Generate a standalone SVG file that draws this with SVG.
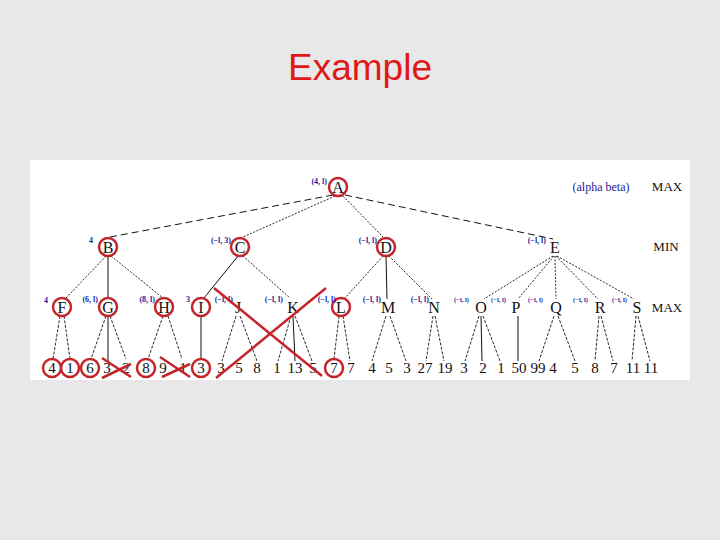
<svg xmlns="http://www.w3.org/2000/svg" width="720" height="540" viewBox="0 0 720 540">
<style>
.title{font-family:"Liberation Sans","Open Sans",sans-serif;font-size:37px;fill:#e01818;text-anchor:middle}
.n{font-family:"Liberation Serif","DejaVu Serif",serif;font-size:16px;fill:#111;text-anchor:middle}
.lf{font-family:"Liberation Serif","DejaVu Serif",serif;font-size:15px;fill:#111;text-anchor:middle}
.ab{font-family:"Liberation Serif","DejaVu Serif",serif;font-size:8px;font-weight:bold;fill:#1c1c9c;text-anchor:end}
.abs{font-family:"Liberation Serif","DejaVu Serif",serif;font-size:6.5px;font-weight:bold;fill:#1c1c9c;text-anchor:end}
.side{font-family:"Liberation Serif","DejaVu Serif",serif;font-size:13px;fill:#111;text-anchor:middle}
.leg{font-family:"Liberation Serif","DejaVu Serif",serif;font-size:12px;fill:#1c1c9c;text-anchor:middle}
.rc{fill:none;stroke:#c3252b;stroke-width:2.5}
.rx{stroke:#c3252b;stroke-width:2.5;fill:none}
.dash{stroke:#111;stroke-width:1;stroke-dasharray:7 4;fill:none}
.dot{stroke:#111;stroke-width:0.9;stroke-dasharray:2 1.5;fill:none}
.thin{stroke:#111;stroke-width:0.9;stroke-dasharray:3 1.5;fill:none}
.sol{stroke:#111;stroke-width:1;fill:none}
</style>
<rect x="0" y="0" width="720" height="540" fill="#e8e8e8"/>
<text class="title" x="360" y="80">Example</text>
<rect x="30" y="160" width="660" height="220" fill="#ffffff"/>

<g id="connectors">
<line class="dash" x1="333" y1="195" x2="110" y2="237"/>
<line class="dot" x1="335" y1="196" x2="243" y2="237"/>
<line class="dot" x1="343" y1="196" x2="383" y2="237"/>
<line class="dash" x1="345" y1="195" x2="553" y2="239"/>
<line class="dot" x1="106" y1="256" x2="66" y2="298"/>
<line class="sol" x1="108" y1="256" x2="108" y2="298"/>
<line class="dot" x1="111" y1="256" x2="163" y2="298"/>
<line class="sol" x1="238" y1="256" x2="204" y2="298"/>
<line class="dot" x1="243" y1="256" x2="290" y2="298"/>
<line class="dot" x1="383" y1="256" x2="345" y2="298"/>
<line class="sol" x1="386" y1="256" x2="387" y2="299"/>
<line class="dot" x1="389" y1="256" x2="432" y2="299"/>
<line class="dot" x1="553" y1="256" x2="484" y2="299"/>
<line class="dot" x1="554" y1="256" x2="518" y2="299"/>
<line class="dot" x1="555" y1="256" x2="556" y2="299"/>
<line class="dot" x1="556" y1="256" x2="598" y2="299"/>
<line class="dot" x1="557" y1="256" x2="634" y2="299"/>
<line class="thin" x1="60" y1="316" x2="53" y2="359"/>
<line class="thin" x1="64" y1="316" x2="70" y2="359"/>
<line class="thin" x1="106" y1="316" x2="91" y2="359"/>
<line class="sol" x1="108" y1="316" x2="108" y2="361"/>
<line class="thin" x1="110" y1="316" x2="126" y2="359"/>
<line class="thin" x1="163" y1="316" x2="148" y2="359"/>
<line class="thin" x1="168" y1="316" x2="182" y2="359"/>
<line class="sol" x1="201" y1="316" x2="201" y2="359"/>
<line class="thin" x1="236" y1="316" x2="222" y2="361"/>
<line class="thin" x1="240" y1="316" x2="257" y2="361"/>
<line class="thin" x1="291" y1="316" x2="278" y2="361"/>
<line class="sol" x1="293" y1="316" x2="295" y2="361"/>
<line class="thin" x1="295" y1="316" x2="312" y2="361"/>
<line class="thin" x1="339" y1="316" x2="334" y2="359"/>
<line class="thin" x1="343" y1="316" x2="350" y2="361"/>
<line class="thin" x1="386" y1="316" x2="372" y2="361"/>
<line class="thin" x1="390" y1="316" x2="406" y2="361"/>
<line class="thin" x1="433" y1="316" x2="426" y2="361"/>
<line class="thin" x1="435" y1="316" x2="444" y2="361"/>
<line class="thin" x1="479" y1="316" x2="465" y2="361"/>
<line class="sol" x1="481" y1="316" x2="482" y2="361"/>
<line class="thin" x1="483" y1="316" x2="500" y2="361"/>
<line class="sol" x1="518" y1="316" x2="518" y2="361"/>
<line class="thin" x1="554" y1="316" x2="539" y2="361"/>
<line class="thin" x1="558" y1="316" x2="575" y2="361"/>
<line class="thin" x1="599" y1="316" x2="595" y2="361"/>
<line class="thin" x1="601" y1="316" x2="613" y2="361"/>
<line class="thin" x1="636" y1="316" x2="632" y2="361"/>
<line class="thin" x1="638" y1="316" x2="650" y2="361"/>
</g>

<g id="legend">
<text class="leg" x="601" y="191">(alpha beta)</text>
<text class="side" x="667" y="191">MAX</text>
<text class="side" x="666" y="251">MIN</text>
<text class="side" x="667" y="312">MAX</text>
</g>

<g id="nA"><circle class="rc" cx="338" cy="187" r="9" fill="#fff"/><text class="n" x="338" y="193">A</text><text class="ab" x="327" y="184">(4, l)</text></g>
<g id="nB"><circle class="rc" cx="108" cy="247" r="9"/><text class="n" x="108" y="253">B</text><text class="ab" x="93" y="243">4</text></g>
<g id="nC"><circle class="rc" cx="240" cy="247" r="9"/><text class="n" x="240" y="253">C</text><text class="ab" x="231" y="243">(−l, 3)</text></g>
<g id="nD"><circle class="rc" cx="386" cy="247" r="9"/><text class="n" x="386" y="253">D</text><text class="ab" x="377" y="243">(−l, l)</text></g>
<g id="nE"><text class="n" x="555" y="253">E</text><text class="ab" x="546" y="243">(−l, l)</text></g>

<g id="nF"><circle class="rc" cx="62" cy="307" r="9"/><text class="n" x="62" y="313">F</text><text class="ab" x="48" y="303">4</text></g>
<g id="nG"><circle class="rc" cx="108" cy="307" r="9"/><text class="n" x="108" y="313">G</text><text class="ab" x="98" y="302">(6, l)</text></g>
<g id="nH"><circle class="rc" cx="164" cy="307" r="9"/><text class="n" x="164" y="313">H</text><text class="ab" x="155" y="302">(8, l)</text></g>
<g id="nI"><circle class="rc" cx="201" cy="307" r="9"/><text class="n" x="201" y="313">I</text><text class="ab" x="190" y="302">3</text></g>
<g id="nJ"><text class="n" x="238" y="313">J</text><text class="ab" x="233" y="302">(−l, l)</text></g>
<g id="nK"><text class="n" x="293" y="313">K</text><text class="ab" x="283" y="302">(−l, l)</text></g>
<g id="nL"><circle class="rc" cx="341" cy="307" r="9"/><text class="n" x="341" y="313">L</text><text class="ab" x="336" y="302">(−l, l)</text></g>
<g id="nM"><text class="n" x="388" y="313">M</text><text class="ab" x="381" y="302">(−l, l)</text></g>
<g id="nN"><text class="n" x="434" y="313">N</text><text class="ab" x="429" y="302">(−l, l)</text></g>
<g id="nO"><text class="n" x="481" y="313">O</text><text class="abs" x="469" y="302">(−l, l)</text></g>
<g id="nP"><text class="n" x="516" y="313">P</text><text class="abs" x="506" y="302">(−l, l)</text></g>
<g id="nQ"><text class="n" x="556" y="313">Q</text><text class="abs" x="543" y="302">(−l, l)</text></g>
<g id="nR"><text class="n" x="600" y="313">R</text><text class="abs" x="588" y="302">(−l, l)</text></g>
<g id="nS"><text class="n" x="637" y="313">S</text><text class="abs" x="627" y="302">(−l, l)</text></g>

<g id="leaves">
<g id="l1"><circle class="rc" cx="52" cy="368" r="9"/><text class="lf" x="52" y="373">4</text></g>
<g id="l2"><circle class="rc" cx="70" cy="368" r="9"/><text class="lf" x="70" y="373">1</text></g>
<g id="l3"><circle class="rc" cx="90" cy="368" r="9"/><text class="lf" x="90" y="373">6</text></g>
<g id="l4"><text class="lf" x="107" y="373">3</text></g>
<g id="l5"><text class="lf" x="126" y="373">2</text></g>
<g id="l6"><circle class="rc" cx="146" cy="368" r="9"/><text class="lf" x="146" y="373">8</text></g>
<g id="l7"><text class="lf" x="163" y="373">9</text></g>
<g id="l8"><text class="lf" x="183" y="373">1</text></g>
<g id="l9"><circle class="rc" cx="201" cy="368" r="9"/><text class="lf" x="201" y="373">3</text></g>
<g id="l10"><text class="lf" x="221" y="373">3</text></g>
<g id="l11"><text class="lf" x="239" y="373">5</text></g>
<g id="l12"><text class="lf" x="257" y="373">8</text></g>
<g id="l13"><text class="lf" x="277" y="373">1</text></g>
<g id="l14"><text class="lf" x="295" y="373">13</text></g>
<g id="l15"><text class="lf" x="313" y="373">5</text></g>
<g id="l16"><circle class="rc" cx="334" cy="368" r="9"/><text class="lf" x="334" y="373">7</text></g>
<g id="l17"><text class="lf" x="351" y="373">7</text></g>
<g id="l18"><text class="lf" x="372" y="373">4</text></g>
<g id="l19"><text class="lf" x="389" y="373">5</text></g>
<g id="l20"><text class="lf" x="407" y="373">3</text></g>
<g id="l21"><text class="lf" x="425" y="373">27</text></g>
<g id="l22"><text class="lf" x="445" y="373">19</text></g>
<g id="l23"><text class="lf" x="464" y="373">3</text></g>
<g id="l24"><text class="lf" x="483" y="373">2</text></g>
<g id="l25"><text class="lf" x="501" y="373">1</text></g>
<g id="l26"><text class="lf" x="519" y="373">50</text></g>
<g id="l27"><text class="lf" x="538" y="373">99</text></g>
<g id="l28"><text class="lf" x="553" y="373">4</text></g>
<g id="l29"><text class="lf" x="575" y="373">5</text></g>
<g id="l30"><text class="lf" x="595" y="373">8</text></g>
<g id="l31"><text class="lf" x="614" y="373">7</text></g>
<g id="l32"><text class="lf" x="633" y="373">11</text></g>
<g id="l33"><text class="lf" x="651" y="373">11</text></g>
</g>

<g id="cuts">
<line class="rx" x1="102" y1="358" x2="131" y2="377"/>
<line class="rx" x1="102" y1="378" x2="131" y2="364"/>
<line class="rx" x1="160" y1="357" x2="190" y2="377"/>
<line class="rx" x1="162" y1="377" x2="190" y2="364"/>
<line class="rx" x1="214" y1="288" x2="322" y2="376"/>
<line class="rx" x1="216" y1="378" x2="326" y2="288"/>
</g>
</svg>
